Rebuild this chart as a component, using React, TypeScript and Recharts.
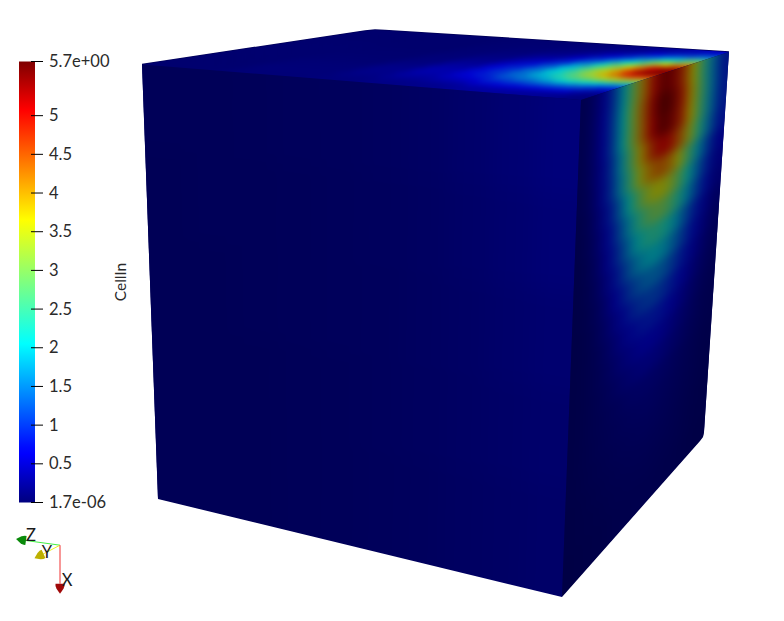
import { Bar, BarChart, Scatter, ScatterChart, XAxis, YAxis } from "recharts";

const WIDTH = 784;
const HEIGHT = 621;
const FONT = "Lato, sans-serif";

// colour bar
const colorBarTitle = "CellIn";
const colorBarMin = 1.7e-6;
const colorBarMax = 5.7;
const colorBarTicks = [1.7e-6, 0.5, 1, 1.5, 2, 2.5, 3, 3.5, 4, 4.5, 5, 5.7];
const colorBarLabels = ["1.7e-06", "0.5", "1", "1.5", "2", "2.5", "3", "3.5", "4", "4.5", "5", "5.7e+00"];
const colorBarData = [{ name: colorBarTitle, value: colorBarMax }];

// jet map: fraction of the range, r, g, b
const jetStops = [
  [0, 0, 0, 127],
  [0.11, 0, 0, 255],
  [0.125, 0, 10, 255],
  [0.36, 0, 255, 255],
  [0.5, 127, 255, 127],
  [0.64, 255, 255, 0],
  [0.89, 255, 0, 0],
  [1, 127, 0, 0],
];

// cube corners as seen in the picture
const frontTop = [581, 100];
const frontBottom = [562, 597];
const leftTop = [142, 64.5];
const leftBottom = [158, 499];
const backTop = [375, 30];
const rightTop = [729, 52];
const rightBottom = [703, 437];

// outlines, with the slightly rounded corners of the render
const leftOutline = [leftTop, frontTop, frontBottom, leftBottom];
const topOutline = [leftTop, [365, 31], backTop, [385, 30.6], rightTop, frontTop];
const rightOutline = [frontTop, rightTop, [704, 432], rightBottom, [700, 441], frontBottom];
const silhouette = [leftTop, [365, 31], backTop, [385, 30.6], rightTop, [704, 432], rightBottom, [700, 441], frontBottom, leftBottom];

const faceShades = { left: 0.68, top: 0.82, right: 0.52 };

// CellIn on the left face, rows top to bottom
const leftFaceValues = [
  [0.01, 0.01, 0.02, 0.03, 0.04, 0.06, 0.09, 0.14, 0.2, 0.26],
  [0.0, 0.01, 0.01, 0.02, 0.03, 0.05, 0.08, 0.12, 0.17, 0.22],
  [0.0, 0.0, 0.01, 0.02, 0.03, 0.04, 0.07, 0.1, 0.14, 0.18],
  [0.0, 0.0, 0.0, 0.01, 0.02, 0.04, 0.06, 0.09, 0.12, 0.15],
  [0.0, 0.0, 0.0, 0.01, 0.02, 0.03, 0.05, 0.08, 0.1, 0.13],
];

// CellIn on the top face, one list per column from the left corner to the right face, front to back
const topFaceColumnEdges = [0, 0.2, 0.4, 0.5, 0.6, 0.65, 0.7, 0.75, 0.8, 0.84, 0.88, 0.91, 0.94, 0.97, 1];
const topFaceValues = [
  [0.04, 0.04, 0.04, 0.04, 0.04, 0.04, 0.04, 0.04, 0.04, 0.03, 0.03, 0.03],
  [0.09, 0.1, 0.09, 0.08, 0.06, 0.05, 0.04, 0.04, 0.03, 0.03, 0.03, 0.03],
  [0.12, 0.17, 0.2, 0.2, 0.16, 0.12, 0.1, 0.08, 0.07, 0.06, 0.05, 0.05],
  [0.17, 0.26, 0.36, 0.42, 0.38, 0.3, 0.22, 0.16, 0.12, 0.09, 0.07, 0.06],
  [0.2, 0.33, 0.5, 0.66, 0.72, 0.66, 0.5, 0.36, 0.24, 0.15, 0.1, 0.07],
  [0.22, 0.38, 0.62, 0.88, 1.0, 0.94, 0.75, 0.5, 0.3, 0.18, 0.12, 0.08],
  [0.3, 0.55, 0.9, 1.25, 1.4, 1.38, 1.2, 0.88, 0.55, 0.32, 0.18, 0.12],
  [0.33, 0.62, 1.05, 1.5, 1.85, 2.0, 1.9, 1.5, 1.0, 0.55, 0.28, 0.15],
  [0.32, 0.65, 1.2, 1.8, 2.35, 2.6, 2.6, 2.2, 1.55, 0.9, 0.42, 0.2],
  [0.3, 0.65, 1.3, 2.1, 2.8, 3.25, 3.3, 2.9, 2.1, 1.3, 0.62, 0.26],
  [0.28, 0.65, 1.3, 2.2, 3.1, 3.85, 4.0, 3.6, 2.6, 1.65, 0.85, 0.35],
  [0.25, 0.6, 1.2, 2.1, 3.3, 4.3, 4.7, 4.3, 3.2, 2.0, 1.0, 0.42],
  [0.2, 0.4, 1.0, 1.9, 3.35, 4.75, 5.4, 5.0, 3.6, 2.2, 1.1, 0.5],
  [0.12, 0.27, 0.77, 1.7, 3.2, 4.7, 5.6, 5.4, 4.2, 2.7, 1.35, 0.55],
];

// CellIn on the right face, rows top to bottom
const rightFaceValues = [
  [0.11, 0.28, 0.6, 1.16, 1.98, 3.03, 4.13, 5.0, 5.5, 5.34, 4.68, 3.63, 2.53, 1.6, 0.88],
  [0.11, 0.29, 0.63, 1.2, 2.05, 3.14, 4.28, 5.19, 5.7, 5.53, 4.85, 3.76, 2.62, 1.65, 0.91],
  [0.11, 0.28, 0.62, 1.18, 2.02, 3.08, 4.2, 5.1, 5.6, 5.43, 4.76, 3.7, 2.58, 1.62, 0.9],
  [0.1, 0.26, 0.56, 1.07, 1.84, 2.8, 3.83, 4.64, 5.1, 4.95, 4.34, 3.37, 2.35, 1.48, 0.82],
  [0.09, 0.22, 0.53, 1.0, 1.72, 2.55, 3.43, 4.09, 4.4, 4.18, 3.52, 2.64, 1.8, 1.1, 0.57],
  [0.07, 0.18, 0.43, 0.83, 1.4, 2.09, 2.81, 3.35, 3.6, 3.42, 2.88, 2.16, 1.48, 0.9, 0.47],
  [0.06, 0.15, 0.36, 0.69, 1.17, 1.74, 2.34, 2.79, 3.0, 2.85, 2.4, 1.8, 1.23, 0.75, 0.39],
  [0.05, 0.12, 0.29, 0.58, 0.98, 1.49, 1.97, 2.3, 2.4, 2.23, 1.82, 1.34, 0.89, 0.53, 0.26],
  [0.05, 0.1, 0.23, 0.47, 0.8, 1.21, 1.6, 1.87, 1.95, 1.81, 1.48, 1.09, 0.72, 0.43, 0.21],
  [0.05, 0.08, 0.18, 0.36, 0.62, 0.93, 1.23, 1.44, 1.5, 1.4, 1.14, 0.84, 0.56, 0.33, 0.17],
  [0.05, 0.07, 0.15, 0.28, 0.47, 0.71, 0.94, 1.1, 1.15, 1.07, 0.87, 0.64, 0.43, 0.26, 0.14],
  [0.05, 0.07, 0.12, 0.22, 0.36, 0.53, 0.7, 0.82, 0.85, 0.79, 0.65, 0.48, 0.32, 0.2, 0.11],
  [0.05, 0.07, 0.11, 0.18, 0.28, 0.4, 0.51, 0.6, 0.62, 0.58, 0.48, 0.36, 0.25, 0.15, 0.09],
  [0.05, 0.07, 0.1, 0.15, 0.22, 0.3, 0.38, 0.44, 0.46, 0.43, 0.36, 0.28, 0.2, 0.13, 0.08],
  [0.05, 0.07, 0.1, 0.13, 0.17, 0.21, 0.26, 0.29, 0.3, 0.28, 0.25, 0.2, 0.15, 0.1, 0.07],
  [0.05, 0.07, 0.09, 0.12, 0.15, 0.18, 0.21, 0.23, 0.24, 0.23, 0.2, 0.17, 0.13, 0.09, 0.06],
  [0.05, 0.06, 0.08, 0.1, 0.12, 0.15, 0.17, 0.19, 0.2, 0.19, 0.17, 0.14, 0.11, 0.08, 0.06],
  [0.04, 0.05, 0.07, 0.08, 0.1, 0.12, 0.14, 0.15, 0.16, 0.15, 0.14, 0.12, 0.09, 0.07, 0.05],
  [0.04, 0.05, 0.06, 0.07, 0.08, 0.1, 0.11, 0.12, 0.13, 0.12, 0.11, 0.1, 0.08, 0.06, 0.05],
  [0.03, 0.04, 0.05, 0.06, 0.07, 0.08, 0.09, 0.1, 0.1, 0.1, 0.09, 0.08, 0.07, 0.05, 0.04],
];

// orientation widget
const triadOrigin = { x: 60, y: 552 };
const triadAxes = [
  { name: "Z", end: { x: 24, y: 547 }, stroke: "#44f044", cone: "#0a8a0a", tip: { x: 21, y: 546.5 }, angle: 188, label: { x: 31, y: 548 } },
  { name: "Y", end: { x: 43, y: 561 }, stroke: "#f0f020", cone: "#bdb000", tip: { x: 39, y: 563 }, angle: 155, label: { x: 47, y: 565 } },
  { name: "X", end: { x: 60, y: 591 }, stroke: "#f03030", cone: "#a00808", tip: { x: 60, y: 596 }, angle: 90, label: { x: 67, y: 593 } },
];

function jetColor(value: number, shade: number) {
  const f = Math.min(1, Math.max(0, (value - colorBarMin) / (colorBarMax - colorBarMin)));
  let k = 1;
  while (k < jetStops.length - 1 && jetStops[k][0] < f) k++;
  const a = jetStops[k - 1];
  const b = jetStops[k];
  const t = (f - a[0]) / (b[0] - a[0]);
  const ch = (i: number) => Math.round((a[i] + (b[i] - a[i]) * t) * shade);
  return `rgb(${ch(1)},${ch(2)},${ch(3)})`;
}

const toPoints = (outline: number[][]) => outline.map((p) => p.join(",")).join(" ");

const mix = (a: number[], b: number[], t: number) => [a[0] + (b[0] - a[0]) * t, a[1] + (b[1] - a[1]) * t];

// cells of one face: quad = corners at (0,0) (1,0) (1,1) (0,1)
function faceCells(quad: number[][], uEdges: number[], vEdges: number[], valueAt: (i: number, j: number) => number, shade: number) {
  const point = (u: number, v: number) => mix(mix(quad[0], quad[1], u), mix(quad[3], quad[2], u), v);
  const grow = (e: number[], k: number) => (k === 0 ? -0.15 : k === e.length - 1 ? 1.15 : e[k]);
  const cells: any[] = [];
  for (let j = 0; j < vEdges.length - 1; j++) {
    for (let i = 0; i < uEdges.length - 1; i++) {
      const u0 = grow(uEdges, i);
      const u1 = grow(uEdges, i + 1);
      const v0 = grow(vEdges, j);
      const v1 = grow(vEdges, j + 1);
      const [x, y] = point((u0 + u1) / 2, (v0 + v1) / 2);
      const corners = [point(u0, v0), point(u1, v0), point(u1, v1), point(u0, v1)];
      cells.push({
        x,
        y,
        offsets: corners.map((c) => [c[0] - x, c[1] - y]),
        fill: jetColor(valueAt(i, j), shade),
      });
    }
  }
  return cells;
}

const evenEdges = (n: number) => Array.from({ length: n + 1 }, (_, k) => k / n);

const leftCells = faceCells(
  [leftTop, frontTop, frontBottom, leftBottom],
  evenEdges(leftFaceValues[0].length),
  evenEdges(leftFaceValues.length),
  (i, j) => leftFaceValues[j][i],
  faceShades.left,
);
const topCells = faceCells(
  [leftTop, frontTop, rightTop, backTop],
  topFaceColumnEdges,
  evenEdges(topFaceValues[0].length),
  (i, j) => topFaceValues[i][j],
  faceShades.top,
);
const rightCells = faceCells(
  [frontTop, rightTop, rightBottom, frontBottom],
  evenEdges(rightFaceValues[0].length),
  evenEdges(rightFaceValues.length),
  (i, j) => rightFaceValues[j][i],
  faceShades.right,
);

const CellShape = ({ cx, cy, payload }: any) => {
  const pts = payload.offsets.map((o: number[]) => `${cx + o[0]},${cy + o[1]}`).join(" ");
  return <polygon points={pts} fill={payload.fill} stroke={payload.fill} strokeWidth={1} />;
};

const SilhouetteShape = ({ cx, cy }: any) => (
  <polygon points={silhouette.map((p) => `${cx + p[0] - leftTop[0]},${cy + p[1] - leftTop[1]}`).join(" ")} fill="#00005a" />
);

const NoDot = () => null;

const ConeShape = ({ cx, cy, payload }: any) => (
  <g transform={`translate(${cx},${cy}) rotate(${payload.angle})`}>
    <path d="M-5,-4.5 Q-3,-5 0,-3.5 L5,0 L0,3.5 Q-3,5 -5,4.5 Z" fill={payload.cone} />
  </g>
);

const LabelShape = ({ cx, cy, payload }: any) => (
  <text x={cx} y={cy} textAnchor="middle" fontFamily={FONT} fontSize={16.5} fill="#1a1a1a">
    {payload.name}
  </text>
);

const ColorBarTick = ({ x, y, payload, index }: any) => (
  <g>
    <line x1={x - 12} x2={x} y1={y} y2={y} stroke="#000" strokeWidth={1} />
    <text x={x + 6} y={y + 5.5} fontFamily={FONT} fontSize={16.5} fill="#2a2a2a">
      {colorBarLabels[index ?? colorBarTicks.indexOf(payload.value)]}
    </text>
  </g>
);

const ColorBarTitle = ({ viewBox }: any) => {
  const x = viewBox.x + 91;
  const y = viewBox.y + viewBox.height / 2;
  return (
    <text x={x} y={y} transform={`rotate(-90 ${x} ${y})`} textAnchor="middle" fontFamily={FONT} fontSize={15.5} fill="#2a2a2a">
      {colorBarTitle}
    </text>
  );
};

export default function App() {
  return (
    <div style={{ position: "fixed", left: 0, top: 0, width: WIDTH, height: HEIGHT, background: "#fff" }}>
      <style>{`
        .face-left { filter: url(#blurLeft); clip-path: url(#clipLeft); }
        .face-top { filter: url(#blurTop); clip-path: url(#clipTop); }
        .face-right { filter: url(#blurRight); clip-path: url(#clipRight); }
      `}</style>

      <div style={{ position: "absolute", left: 0, top: 0 }}>
        <ScatterChart width={WIDTH} height={HEIGHT} margin={{ top: 0, right: 0, bottom: 0, left: 0 }}>
          <defs>
            <filter id="blurLeft" filterUnits="userSpaceOnUse" x="0" y="0" width={WIDTH} height={HEIGHT} colorInterpolationFilters="sRGB">
              <feGaussianBlur stdDeviation="12" />
            </filter>
            <filter id="blurTop" filterUnits="userSpaceOnUse" x="0" y="0" width={WIDTH} height={HEIGHT} colorInterpolationFilters="sRGB">
              <feGaussianBlur stdDeviation="2.5" />
            </filter>
            <filter id="blurRight" filterUnits="userSpaceOnUse" x="0" y="0" width={WIDTH} height={HEIGHT} colorInterpolationFilters="sRGB">
              <feGaussianBlur stdDeviation="5" />
            </filter>
            <clipPath id="clipLeft">
              <polygon points={toPoints(leftOutline)} />
            </clipPath>
            <clipPath id="clipTop">
              <polygon points={toPoints(topOutline)} />
            </clipPath>
            <clipPath id="clipRight">
              <polygon points={toPoints(rightOutline)} />
            </clipPath>
          </defs>
          <XAxis type="number" dataKey="x" domain={[0, WIDTH]} hide />
          <YAxis type="number" dataKey="y" domain={[0, HEIGHT]} reversed hide />
          <Scatter data={[{ x: leftTop[0], y: leftTop[1] }]} shape={SilhouetteShape} isAnimationActive={false} />
          <Scatter className="face-left" data={leftCells} shape={CellShape} isAnimationActive={false} />
          <Scatter className="face-top" data={topCells} shape={CellShape} isAnimationActive={false} />
          <Scatter className="face-right" data={rightCells} shape={CellShape} isAnimationActive={false} />
          {triadAxes.map((a) => (
            <Scatter
              key={a.name}
              data={[triadOrigin, a.end]}
              line={{ stroke: a.stroke, strokeWidth: 1 }}
              shape={NoDot}
              isAnimationActive={false}
            />
          ))}
          <Scatter data={triadAxes.map((a) => ({ ...a.tip, cone: a.cone, angle: a.angle }))} shape={ConeShape} isAnimationActive={false} />
          <Scatter data={triadAxes.map((a) => ({ ...a.label, name: a.name }))} shape={LabelShape} isAnimationActive={false} />
        </ScatterChart>
      </div>

      <div style={{ position: "absolute", left: 0, top: 0 }}>
        <BarChart width={140} height={HEIGHT} data={colorBarData} barCategoryGap={0} margin={{ top: 61.5, right: 0, bottom: 118.5, left: 19 }}>
          <defs>
            <linearGradient id="jetBar" x1="0" y1="1" x2="0" y2="0">
              {jetStops.map((s) => (
                <stop key={s[0]} offset={s[0]} stopColor={`rgb(${s[1]},${s[2]},${s[3]})`} />
              ))}
            </linearGradient>
          </defs>
          <XAxis dataKey="name" hide />
          <YAxis
            orientation="right"
            width={105}
            type="number"
            domain={[colorBarMin, colorBarMax]}
            ticks={colorBarTicks}
            interval={0}
            axisLine={false}
            tickLine={false}
            tick={ColorBarTick}
            label={{ content: ColorBarTitle }}
          />
          <Bar dataKey="value" fill="url(#jetBar)" isAnimationActive={false} />
        </BarChart>
      </div>
    </div>
  );
}
